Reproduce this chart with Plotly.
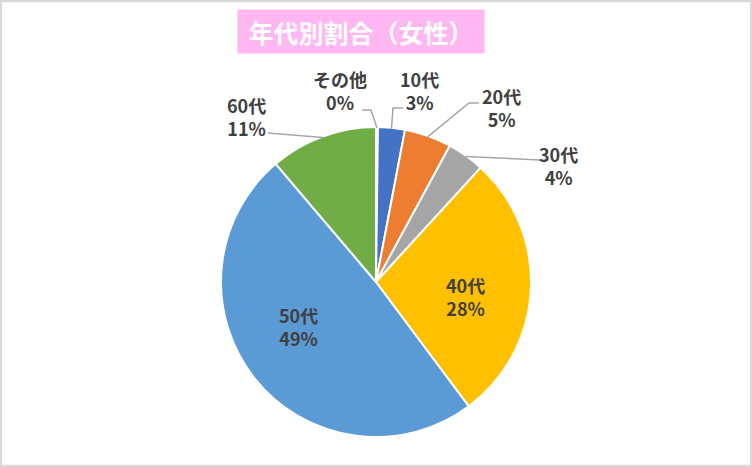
import math
import plotly.graph_objects as go

# 年代別割合（女性）
labels = ["その他", "10代", "20代", "30代", "40代", "50代", "60代"]
values = [0.2, 2.8, 4.9, 3.9, 28.0, 49.0, 11.2]
colors = ["#7F7F7F", "#4472C4", "#ED7D31", "#A5A5A5", "#FFC000", "#5B9BD5", "#70AD47"]

W, H = 752, 467
CX, CY, R = 376, 282, 155  # pie centre / radius in px

# label text centre and leader line (elbow, end) in px -- layout only
label_pos = {
    "その他": (340, 90),
    "10代": (420, 90),
    "20代": (501, 108),
    "30代": (558, 165),
    "40代": (465, 296),
    "50代": (298, 326),
    "60代": (246, 116),
}
leaders = {
    "その他": [(371, 110), (362, 110)],
    "10代": [(393, 108), (403, 108)],
    "20代": [(469, 103), (479, 103)],
    "30代": [(540, 160)],
    "60代": [(268, 133)],
}


def px(x, y):
    return x / W, 1 - y / H


fig = go.Figure(
    go.Pie(
        labels=labels,
        values=values,
        marker=dict(colors=colors, line=dict(color="white", width=2)),
        sort=False,
        direction="clockwise",
        rotation=0,
        textinfo="none",
        hoverinfo="label+percent",
        domain=dict(x=[(CX - R) / W, (CX + R) / W], y=[1 - (CY + R) / H, 1 - (CY - R) / H]),
    )
)

total = sum(values)
font = dict(family="Noto Sans CJK JP", size=18, color="#404040", weight="bold")
cum = 0
for lab, v in zip(labels, values):
    mid = (cum + v / 2) / total * 2 * math.pi
    cum += v
    pct = round(v / total * 100)
    lx, ly = label_pos[lab]
    x, y = px(lx, ly)
    fig.add_annotation(x=x, y=y, xref="paper", yref="paper", xanchor="center", yanchor="middle",
                       text=f"{lab}<br>{pct}%", showarrow=False, font=font)
    if lab in leaders:
        tx = CX + (R - 1) * math.sin(mid)
        ty = CY - (R - 1) * math.cos(mid)
        pts = [(tx, ty)] + leaders[lab]
        path = "M " + " L ".join(f"{px(a, b)[0]:.5f},{px(a, b)[1]:.5f}" for a, b in pts)
        fig.add_shape(type="path", xref="paper", yref="paper", path=path,
                      line=dict(color="#A6A6A6", width=1.5))

# title box
tx_, ty_ = px(361, 31)
fig.add_annotation(x=tx_, y=ty_, xref="paper", yref="paper", xanchor="center", yanchor="middle",
                   text="年代別割合（女性）", showarrow=False,
                   font=dict(family="Noto Sans CJK JP", size=25, color="white", weight="bold"),
                   bgcolor="#FFB7F2", width=234, height=31, borderpad=6)

fig.add_shape(type="rect", xref="paper", yref="paper", x0=0.001, y0=0.002, x1=0.999, y1=0.998,
              line=dict(color="#D9D9D9", width=2.5))

fig.update_layout(
    width=W, height=H,
    margin=dict(l=0, r=0, t=0, b=0),
    paper_bgcolor="white",
    plot_bgcolor="white",
    showlegend=False,
)

fig.write_html("out.html", config={"displayModeBar": False},
               post_script="document.body.style.margin='0';")
